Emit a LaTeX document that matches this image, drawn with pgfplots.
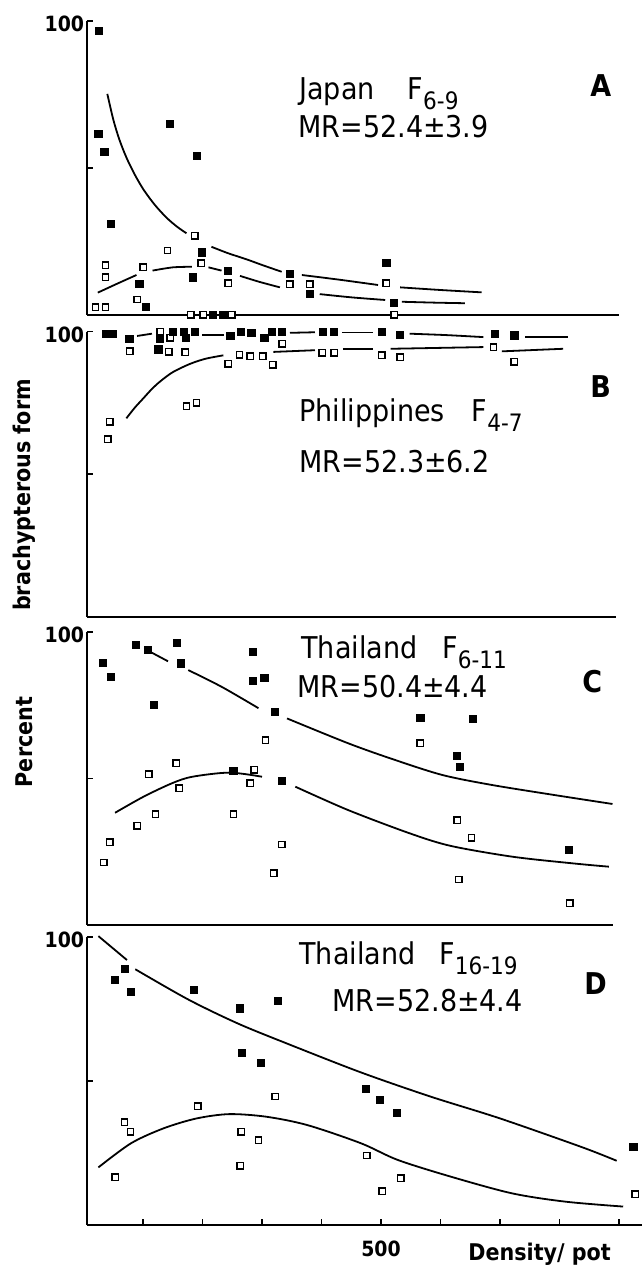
\documentclass[border=0pt]{standalone}
\usepackage{fontspec}
\setmainfont{DejaVu Sans}[FakeStretch=0.9]
\usepackage{graphicx}
\usepackage{pgfplots}
\pgfplotsset{compat=1.18}

\newcommand\tf{\fontsize{15}{18}\selectfont}
\newcommand\lf{\fontsize{15}{18}\selectfont\bfseries}
\newcommand\tickf{\fontsize{10.5}{12}\selectfont\bfseries}
\newcommand\sub[1]{\raisebox{-5pt}{\scalebox{0.8}{#1}}}

\pgfplotsset{
  panel/.style={
    anchor=south west, x=0.2975pt, xmin=5, ymin=0, ymax=100,
    axis x line=bottom, axis y line=left,
    axis line style={-, line width=1pt},
    xtick=\empty, ytick={50,100}, yticklabels={,100},
    tick align=inside, major tick length=3pt,
    tick style={line width=0.8pt, black},
    yticklabel style={font=\tickf, inner sep=1pt, yshift=-1.5pt},
    clip=false,
  },
  fil/.style={only marks, mark=square*, mark size=1.8pt,
    mark options={fill=black, draw=black}},
  opn/.style={only marks, mark=square*, mark size=1.6pt,
    mark options={fill=white, draw=black, line width=0.7pt}},
  crv/.style={no marks, smooth, line width=0.9pt, black},
}

\begin{document}
\begin{tikzpicture}
\useasboundingbox (0,0) rectangle (321pt,634pt);

% A: Japan
\begin{axis}[panel, at={(43.25pt,476.5pt)}, xmax=900, y=1.47pt]
  \addplot[crv] coordinates {(40,75.2) (50,66.5) (60,59.8) (72,53.6) (86,47.8)
    (101,42.6) (120,37.4) (140,33.0) (158,29.9) (173,27.8)};
  \addplot[crv] coordinates {(215,23.2) (243,21.0) (273,19.0) (303,16.8) (333,14.7)};
  \addplot[crv] coordinates {(367,13.6) (430,12.0) (495,10.2)};
  \addplot[crv] coordinates {(532,9.4) (600,8.5) (669,7.7)};
  \addplot[crv] coordinates {(24,7.6) (55,10.5) (89,13.6)};
  \addplot[crv] coordinates {(116,15.1) (150,16.2) (182,16.4)};
  \addplot[crv] coordinates {(210,16.2) (232,15.1)};
  \addplot[crv] coordinates {(263,13.3) (295,11.3) (330,9.4)};
  \addplot[crv] coordinates {(397,7.1) (450,6.0) (507,5.1)};
  \addplot[crv] coordinates {(535,4.5) (590,4.2) (641,4.0)};
  \addplot[opn] coordinates {(20,2.6) (37,2.6) (37,17) (37,12.8) (90,5.3) (100,16.2)
    (141,21.9) (187,27) (198,17.6) (243,10.8) (347,10.5) (380,10.5) (509,10.8)
    (522,0) (180,0) (201,0) (249,0)};
  \addplot[fil] coordinates {(26,96.6) (25,61.5) (35,55.5) (46,31) (94,10.5) (105,2.8)
    (145,65) (184,12.8) (190,54.2) (199,21.3) (218,0) (235,0) (243,15.1)
    (347,13.9) (380,7.1) (509,17.6) (522,4.2)};
\end{axis}

% B: Philippines
\begin{axis}[panel, at={(43.25pt,325.65pt)}, xmax=895, y=1.425pt]
  \addplot[crv] coordinates {(90,98.5) (115,99.3)};
  \addplot[crv] coordinates {(199,98.9) (236,98.9)};
  \addplot[crv] coordinates {(347,99.6) (389,99.8)};
  \addplot[crv] coordinates {(434,99.7) (487,99.7)};
  \addplot[crv] coordinates {(548,99.3) (610,98.8) (672,98.1)};
  \addplot[crv] coordinates {(742,98.1) (815,98.1)};
  \addplot[crv] coordinates {(72,69.6) (86,73.3) (100,76.5) (114,79.7) (128,82.4)
    (150,85.8) (179,88.7) (205,90.5) (235,91.7)};
  \addplot[crv] coordinates {(319,92.9) (389,93.5)};
  \addplot[crv] coordinates {(436,94.0) (487,94.0)};
  \addplot[crv] coordinates {(516,94.0) (672,94.6)};
  \addplot[crv] coordinates {(703,93.1) (806,94.0)};
  \addplot[opn] coordinates {(78,93.1) (129,100) (146,97.8) (143,92.9) (171,92.8)
    (243,88.8) (262,91.9) (280,91.4) (301,91.4) (318,88.4) (334,95.8) (401,92.6)
    (421,92.6) (501,91.7) (532,91.1) (689,94.6) (724,89.4)
    (173,73.9) (190,75.1) (44,68.4) (41,62.3)};
  \addplot[fil] coordinates {(38,99.3) (50,99.3) (77,97.5) (129,97.5) (150,100)
    (169,100) (187,100) (172,97.8) (126,93.8) (247,98.5) (265,100) (282,99.6)
    (304,97.8) (316,100) (334,100) (402,100) (421,100) (501,99.9) (532,98.9)
    (692,99.3) (724,98.7)};
\end{axis}

% C: Thailand F6-11
\begin{axis}[panel, at={(43.25pt,171.5pt)}, xmax=890, y=1.465pt]
  \addplot[crv] coordinates {(104,94.1) (142,90.0)};
  \addplot[crv] coordinates {(176,87) (232,81.3) (294,74)};
  \addplot[crv] coordinates {(342,70.5) (445,62) (521,56.5) (603,51.2) (686,47.8)
    (790,44.4) (889,41.3)};
  \addplot[crv] coordinates {(53,38.3) (101,43.8) (149,48.4) (183,50.6) (245,52) (300,50.6)};
  \addplot[crv] coordinates {(356,47.2) (445,39.2) (548,31.3) (617,27) (721,23.3)
    (824,21) (883,19.9)};
  \addplot[opn] coordinates {(34,21.3) (44,28.3) (90,33.9) (121,37.8) (110,51.4)
    (156,55.2) (161,46.7) (252,37.8) (280,48.4) (287,52.9) (306,63.1) (333,27.5)
    (320,17.7) (566,62.1) (628,35.7) (652,29.8) (631,15.5) (817,7.4)};
  \addplot[fil] coordinates {(32,89.5) (46,84.6) (88,95.5) (108,93.9) (157,96.3)
    (163,89.3) (118,75.2) (284,93.3) (284,83.4) (304,84.2) (322,72.8) (252,52.6)
    (334,49.1) (566,70.8) (655,70.3) (628,57.8) (632,54.0) (816,25.5)};
\end{axis}

% D: Thailand F16-19
\begin{axis}[panel, at={(43.25pt,21.5pt)}, xmax=940, y=1.44pt,
    xtick={100,200,...,900}, xticklabels={,,,,500,,,,},
    xticklabel style={font=\tickf, inner sep=0pt, yshift=-8pt}]
  \addplot[crv] coordinates {(25,100.3) (73,92)};
  \addplot[crv] coordinates {(87,88.8) (176,78.3) (259,70) (342,63) (466,53)
    (583,44.6) (700,37) (838,27) (896,22.3)};
  \addplot[crv] coordinates {(25,20) (80,28.4) (135,33.6) (190,37) (245,38.5)
    (307,37.6) (376,34.7) (466,28.4) (528,22.6) (617,16.8) (720,11) (810,8.1) (907,6.4)};
  \addplot[opn] coordinates {(53,16.6) (69,35.7) (79,32.4) (192,41.2) (265,32.4)
    (263,20.5) (294,29.4) (322,44.6) (476,24.1) (502,11.8) (533,16.3) (927,10.7)};
  \addplot[fil] coordinates {(53,85.1) (69,88.8) (79,80.8) (186,81.7) (263,75.2)
    (327,77.7) (266,59.7) (298,56.4) (475,47.3) (498,43.3) (526,39.0) (924,27.0)};
\end{axis}

\begin{scope}[x=0.5pt, y=-0.5pt, yshift=634pt, every node/.style={inner sep=0pt}]
  \node[anchor=base west, font=\tf] at (299,100) {Japan\hspace{16.5pt}F\sub{6-9}};
  \node[anchor=base west, font=\tf] at (298,138) {MR=52.4±3.9};
  \node[anchor=base west, font=\lf] at (590,97) {A};
  \node[anchor=base west, font=\tf] at (299,422) {Philippines\hspace{13.5pt}F\sub{4-7}};
  \node[anchor=base west, font=\tf] at (299,473) {MR=52.3±6.2};
  \node[anchor=base west, font=\lf] at (590,398) {B};
  \node[anchor=base west, font=\tf] at (301,659) {Thailand\hspace{12.5pt}F\sub{6-11}};
  \node[anchor=base west, font=\tf] at (297,698) {MR=50.4±4.4};
  \node[anchor=base west, font=\lf] at (582,693) {C};
  \node[anchor=base west, font=\tf] at (299,965) {Thailand\hspace{12pt}F\sub{16-19}};
  \node[anchor=base west, font=\tf] at (332,1012) {MR=52.8±4.4};
  \node[anchor=base west, font=\lf] at (584,995) {D};
  \node[anchor=base west, font=\fontsize{11.5}{13}\selectfont\bfseries] at (468,1261) {Density/ pot};
  \node[rotate=90, font=\fontsize{11.5}{13}\selectfont\bfseries] at (24,495) {brachypterous form};
  \node[rotate=90, font=\fontsize{11.5}{13}\selectfont\bfseries] at (24,742) {Percent};
\end{scope}
\end{tikzpicture}
\end{document}
